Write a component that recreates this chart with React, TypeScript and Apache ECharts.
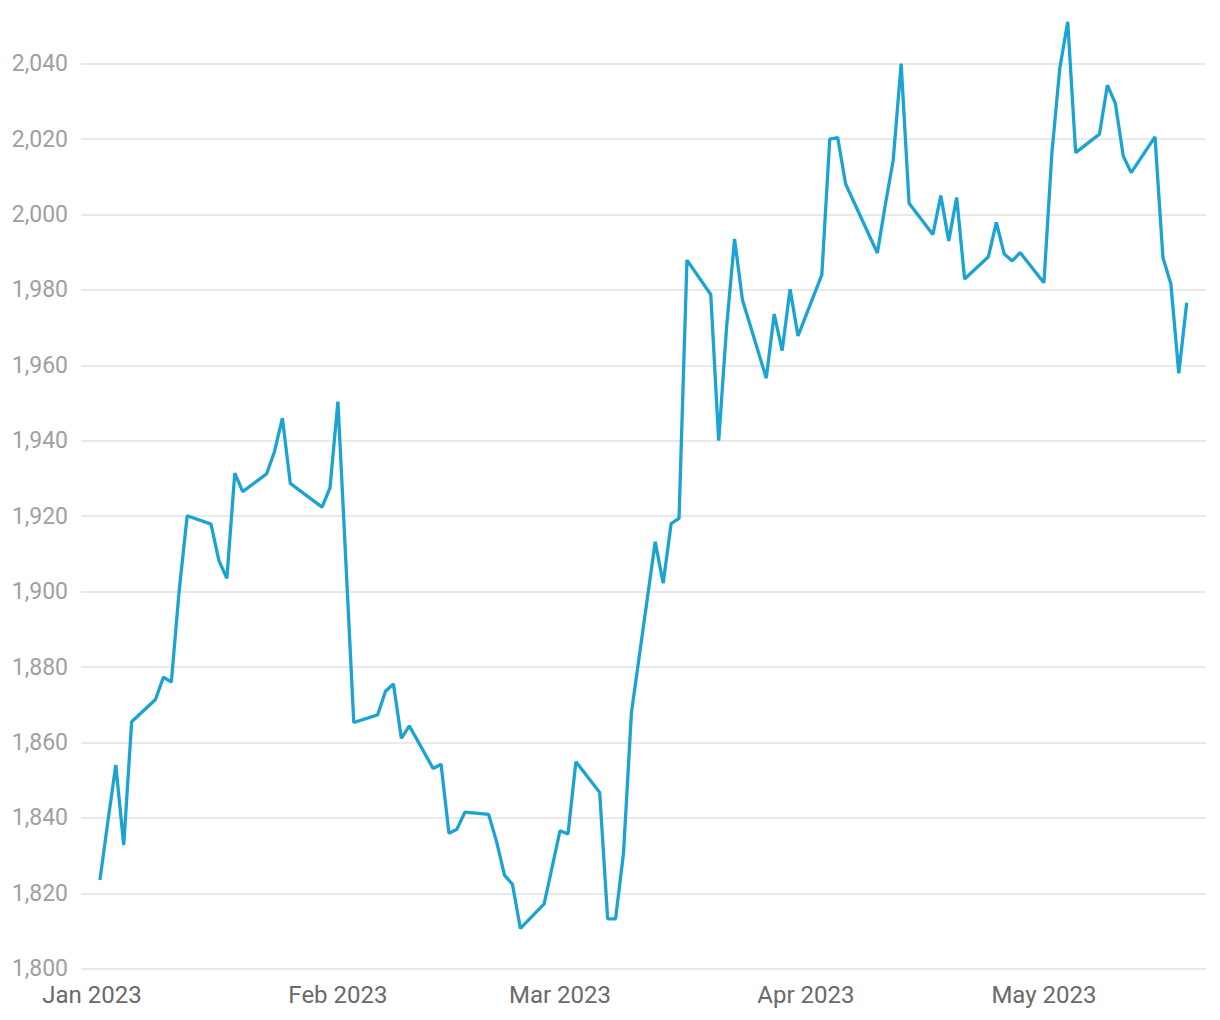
import React, { useEffect, useRef } from "react";
import * as echarts from "echarts";

const dates: string[] = [
  "2023-01-02", "2023-01-03", "2023-01-04", "2023-01-05", "2023-01-06",
  "2023-01-09", "2023-01-10", "2023-01-11", "2023-01-12", "2023-01-13",
  "2023-01-16", "2023-01-17", "2023-01-18", "2023-01-19", "2023-01-20",
  "2023-01-23", "2023-01-24", "2023-01-25", "2023-01-26", "2023-01-27",
  "2023-01-30", "2023-01-31", "2023-02-01", "2023-02-02", "2023-02-03",
  "2023-02-06", "2023-02-07", "2023-02-08", "2023-02-09", "2023-02-10",
  "2023-02-13", "2023-02-14", "2023-02-15", "2023-02-16", "2023-02-17",
  "2023-02-20", "2023-02-21", "2023-02-22", "2023-02-23", "2023-02-24",
  "2023-02-27", "2023-02-28", "2023-03-01", "2023-03-02", "2023-03-03",
  "2023-03-06", "2023-03-07", "2023-03-08", "2023-03-09", "2023-03-10",
  "2023-03-13", "2023-03-14", "2023-03-15", "2023-03-16", "2023-03-17",
  "2023-03-20", "2023-03-21", "2023-03-22", "2023-03-23", "2023-03-24",
  "2023-03-27", "2023-03-28", "2023-03-29", "2023-03-30", "2023-03-31",
  "2023-04-03", "2023-04-04", "2023-04-05", "2023-04-06",
  "2023-04-10", "2023-04-11", "2023-04-12", "2023-04-13", "2023-04-14",
  "2023-04-17", "2023-04-18", "2023-04-19", "2023-04-20", "2023-04-21",
  "2023-04-24", "2023-04-25", "2023-04-26", "2023-04-27", "2023-04-28",
  "2023-05-01", "2023-05-02", "2023-05-03", "2023-05-04", "2023-05-05",
  "2023-05-08", "2023-05-09", "2023-05-10", "2023-05-11", "2023-05-12",
  "2023-05-15", "2023-05-16", "2023-05-17", "2023-05-18", "2023-05-19",
];

const prices: number[] = [
  1823.5, 1839.0, 1854.0, 1832.8, 1865.5,
  1871.4, 1877.3, 1876.0, 1900.5, 1920.1,
  1917.9, 1908.2, 1903.5, 1931.4, 1926.5,
  1931.2, 1937.1, 1946.0, 1928.7, 1927.1,
  1922.4, 1927.5, 1950.4, 1908.0, 1865.3,
  1867.3, 1873.6, 1875.5, 1861.1, 1864.4,
  1853.1, 1854.2, 1835.9, 1837.0, 1841.5,
  1840.9, 1833.7, 1824.8, 1822.4, 1810.7,
  1817.2, 1826.9, 1836.6, 1835.7, 1854.9,
  1846.7, 1813.2, 1813.2, 1830.6, 1867.9,
  1913.2, 1902.2, 1918.0, 1919.4, 1987.9,
  1978.8, 1940.0, 1970.2, 1993.5, 1977.3,
  1956.6, 1973.6, 1963.9, 1980.2, 1967.8,
  1984.0, 2020.0, 2020.4, 2008.1,
  1989.8, 2002.5, 2014.4, 2040.0, 2003.0,
  1994.7, 2005.0, 1993.0, 2004.5, 1982.9,
  1988.8, 1997.9, 1989.5, 1987.7, 1989.9,
  1981.9, 2016.2, 2038.8, 2051.1, 2016.4,
  2021.3, 2034.3, 2029.5, 2015.5, 2011.1,
  2020.6, 1988.6, 1981.6, 1957.9, 1976.6,
];

const monthLabels: string[] = ["Jan", "Feb", "Mar", "Apr", "May", "Jun", "Jul", "Aug", "Sep", "Oct", "Nov", "Dec"];

const yMin = 1800;
const yMax = 2052;
const yInterval = 20;

const DAY = 86400000;

function toUTC(s: string): number {
  const [y, m, d] = s.split("-").map(Number);
  return Date.UTC(y, m - 1, d);
}

export default function App() {
  const ref = useRef<HTMLDivElement>(null);

  useEffect(() => {
    document.body.style.margin = "0";
    if (!ref.current) return;
    const chart = echarts.init(ref.current, undefined, { renderer: "svg" });
    const base = Date.UTC(2023, 0, 1);
    const xMin = base - 1.387 * DAY;
    const xMax = base + 140.43 * DAY;
    const seriesData = dates.map((d, i) => [toUTC(d), prices[i]]);

    chart.setOption({
      animation: false,
      useUTC: true,
      backgroundColor: "#ffffff",
      grid: { left: 81, right: 14, top: 18.4, bottom: 51.3, containLabel: false },
      xAxis: {
        type: "time",
        min: xMin,
        max: xMax,
        minInterval: 28 * DAY,
        axisLine: { show: false },
        axisTick: { show: false },
        splitLine: { show: false },
        axisLabel: {
          showMinLabel: false,
          showMaxLabel: false,
          hideOverlap: false,
          color: "#6a6a6a",
          fontFamily: "Roboto",
          fontSize: 24,
          margin: 14,
          formatter: (v: number) => {
            const dt = new Date(v);
            if (dt.getUTCDate() === 1 && dt.getUTCHours() === 0 && dt.getUTCMinutes() === 0) {
              return `${monthLabels[dt.getUTCMonth()]} ${dt.getUTCFullYear()}`;
            }
            return "";
          },
        },
      },
      yAxis: {
        type: "value",
        min: yMin,
        max: yMax,
        interval: yInterval,
        axisLine: { show: false },
        axisTick: { show: false },
        splitLine: {
          show: true,
          showMaxLine: false,
          lineStyle: { color: "#e2e2e2", width: 1.5 },
        },
        axisLabel: {
          showMaxLabel: false,
          color: "#a0a0a0",
          fontFamily: "Roboto",
          fontSize: 23,
          margin: 13,
          formatter: (v: number) => (v % yInterval === 0 ? v.toLocaleString("en-US") : ""),
        },
      },
      series: [
        {
          type: "line",
          data: seriesData,
          showSymbol: false,
          symbol: "none",
          smooth: false,
          lineStyle: { color: "#1ba3d1", width: 3.3 },
          itemStyle: { color: "#1ba3d1" },
        },
      ],
    });

    return () => chart.dispose();
  }, []);

  return (
    <div
      ref={ref}
      style={{ position: "absolute", left: 0, top: 0, width: 1220, height: 1020 }}
    />
  );
}
